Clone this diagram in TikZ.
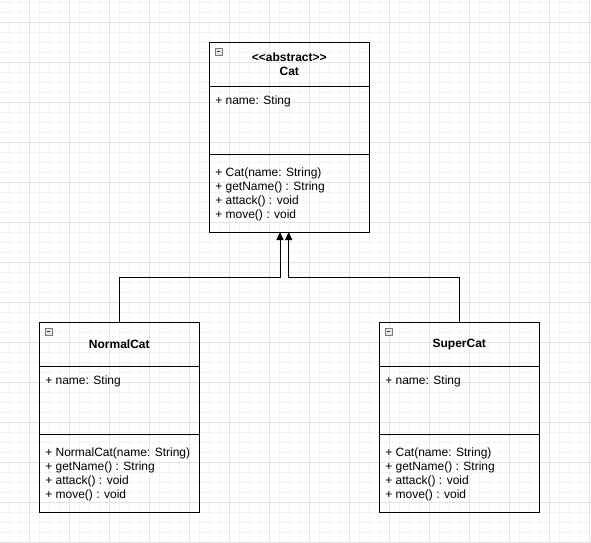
\documentclass[tikz,border=0pt]{standalone}
\usepackage{fontspec}
\setmainfont{Liberation Sans}
\usetikzlibrary{positioning,arrows.meta}

\definecolor{gridmajor}{HTML}{E4E4E4}
\definecolor{gridminor}{HTML}{F3F3F3}
\definecolor{iconline}{HTML}{7A7A7A}
\definecolor{iconfill}{HTML}{E6E6E6}

\begin{document}
\begin{tikzpicture}[
    x=1pt,
    y=-1pt,
    >={Triangle[length=8pt,width=7pt]},
    line width=1pt,
    node distance=0pt,
    font=\fontsize{12}{14}\selectfont,
    every node/.style={inner sep=0, outer sep=0},
    classhead/.style={
      draw,
      minimum width=160pt,
      minimum height=44.4pt,
      align=center,
      font=\fontsize{12}{14}\selectfont\bfseries
    },
    classattr/.style={draw, minimum width=160pt, minimum height=67.6pt},
    classops/.style={draw, minimum width=160pt, minimum height=77.7pt},
    member/.style={anchor=base west},
    collapse/.style={draw=iconline, fill=iconfill, line width=0.6pt, minimum size=6.5pt, anchor=north west},
    inherit/.style={->}
    ]

    \useasboundingbox (0,0) rectangle (591,542);

    % background grid
    \foreach \gx in {9.3,19.3,...,589.3} \draw[gridminor] (\gx,0) -- (\gx,542);
    \foreach \gy in {2.3,12.3,...,542.3} \draw[gridminor] (0,\gy) -- (591,\gy);
    \foreach \gx in {29.3,69.3,...,589.3} \draw[gridmajor] (\gx,0) -- (\gx,542);
    \foreach \gy in {22.3,62.3,...,542.3} \draw[gridmajor] (0,\gy) -- (591,\gy);

    % abstract class
    \node [classhead] (cat) at (289.3,64.5) {<\kern0pt<abstract>\kern0pt>\\Cat};
    \node [classattr] (cat attr) [below = of cat] {};
    \node [classops] (cat ops) [below = of cat attr] {};
    \node [collapse] (cat icon) at ([xshift=6pt,yshift=-6pt]cat.north west) {};
    \draw[line width=0.8pt, black!80] ([xshift=1.4pt]cat icon.west) -- ([xshift=-1.4pt]cat icon.east);
    \node [member] (cat a1) at ([xshift=6pt,yshift=-17.3pt]cat attr.north west) {+ name: Sting};
    \foreach \op [count=\i] in {+ Cat(name: String), + getName() : String, + attack() : void, + move() : void}
      \node [member] (cat o\i) at ([xshift=6pt,yshift={-21.7pt-14pt*(\i-1)}]cat ops.north west) {\op};

    % subclasses
    \node [classhead] (normal) at (119.3,344.5) {NormalCat};
    \node [classattr] (normal attr) [below = of normal] {};
    \node [classops] (normal ops) [below = of normal attr] {};
    \node [collapse] (normal icon) at ([xshift=6pt,yshift=-6pt]normal.north west) {};
    \draw[line width=0.8pt, black!80] ([xshift=1.4pt]normal icon.west) -- ([xshift=-1.4pt]normal icon.east);
    \node [member] (normal a1) at ([xshift=6pt,yshift=-17.3pt]normal attr.north west) {+ name: Sting};
    \foreach \op [count=\i] in {+ NormalCat(name: String), + getName() : String, + attack() : void, + move() : void}
      \node [member] (normal o\i) at ([xshift=6pt,yshift={-21.7pt-14pt*(\i-1)}]normal ops.north west) {\op};

    \node [classhead] (super) at (459.3,344.5) {SuperCat};
    \node [classattr] (super attr) [below = of super] {};
    \node [classops] (super ops) [below = of super attr] {};
    \node [collapse] (super icon) at ([xshift=6pt,yshift=-6pt]super.north west) {};
    \draw[line width=0.8pt, black!80] ([xshift=1.4pt]super icon.west) -- ([xshift=-1.4pt]super icon.east);
    \node [member] (super a1) at ([xshift=6pt,yshift=-17.3pt]super attr.north west) {+ name: Sting};
    \foreach \op [count=\i] in {+ Cat(name: String), + getName() : String, + attack() : void, + move() : void}
      \node [member] (super o\i) at ([xshift=6pt,yshift={-21.7pt-14pt*(\i-1)}]super ops.north west) {\op};

    % inheritance
    \draw[inherit] (normal.north) -- ++(0,-45) -| ([xshift=-9.3pt]cat ops.south);
    \draw[inherit] (super.north) -- ++(0,-45) -| ([xshift=-0.6pt]cat ops.south);

  \end{tikzpicture}
\end{document}
